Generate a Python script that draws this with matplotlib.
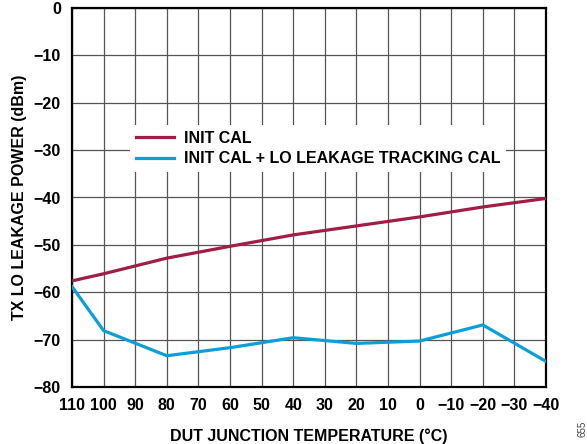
import matplotlib
matplotlib.use("Agg")
import matplotlib.pyplot as plt

temps = [110, 100, 80, 60, 40, 20, 0, -20, -40]
init_cal = [-57.6, -56.1, -52.8, -50.3, -47.9, -46.0, -44.1, -42.0, -40.2]
init_lo_track = [-58.8, -68.1, -73.4, -71.7, -69.6, -70.8, -70.3, -66.9, -74.6]
xticks = list(range(110, -41, -10))
yticks = list(range(0, -81, -10))

def lab(v):
    return str(v).replace("-", "\u2212")

plt.rcParams['font.family'] = ['Liberation Sans', 'DejaVu Sans']
plt.rcParams['font.weight'] = 'bold'
FS = 11.5

fig = plt.figure(figsize=(5.87, 4.44), dpi=100)
ax = fig.add_axes([72/587, 1-387/444, (546-72)/587, (387-8)/444])

ax.plot(temps, init_cal, color="#A01E46", lw=2.3, label="INIT CAL", zorder=3)
ax.plot(temps, init_lo_track, color="#0A9FD8", lw=2.3,
        label="INIT CAL + LO LEAKAGE TRACKING CAL", zorder=3)

ax.set_xlim(110, -40)
ax.set_ylim(-80, 0)
ax.set_xticks(xticks)
ax.set_xticklabels([lab(v) for v in xticks])
ax.set_yticks(yticks)
ax.set_yticklabels([lab(v) for v in yticks])
ax.tick_params(length=0, labelsize=FS, pad=8)
for t in ax.get_xticklabels() + ax.get_yticklabels():
    t.set_fontweight('bold')
ax.grid(True, color="#555555", lw=0.9)
ax.set_axisbelow(True)
for s in ax.spines.values():
    s.set_linewidth(1.6)
    s.set_color("black")

ax.set_xlabel("DUT JUNCTION TEMPERATURE (°C)", fontsize=FS, fontweight='bold', labelpad=11)
ax.set_ylabel("TX LO LEAKAGE POWER (dBm)", fontsize=FS, fontweight='bold', labelpad=5)

leg = ax.legend(loc="upper left", bbox_to_anchor=((130-72)/474, (387-125)/379),
                frameon=True, fancybox=False, framealpha=1, edgecolor="white",
                fontsize=FS, handlelength=2.4, handletextpad=0.65,
                borderpad=0.35, labelspacing=0.36, borderaxespad=0)
for t in leg.get_texts():
    t.set_fontweight('bold')
leg.get_frame().set_linewidth(0)

fig.text(582/587, 1-429/444, "655", rotation=90, fontsize=7, color="#444444",
         fontweight='normal', ha='center', va='center')

fig.savefig("out.png", dpi=100)
